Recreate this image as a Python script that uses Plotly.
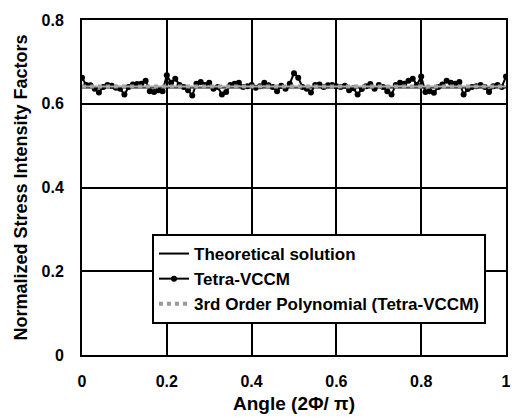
import plotly.graph_objects as go

angle = [i / 100 for i in range(101)]
tetra_vccm = [
    0.662, 0.645, 0.644, 0.636, 0.627, 0.640, 0.645, 0.643, 0.638, 0.636,
    0.622, 0.640, 0.646, 0.647, 0.648, 0.655, 0.630, 0.628, 0.632, 0.630,
    0.668, 0.650, 0.660, 0.645, 0.640, 0.632, 0.620, 0.648, 0.652, 0.645,
    0.650, 0.636, 0.640, 0.622, 0.628, 0.645, 0.648, 0.650, 0.640, 0.642,
    0.645, 0.638, 0.642, 0.650, 0.644, 0.640, 0.630, 0.643, 0.636, 0.648,
    0.673, 0.662, 0.640, 0.636, 0.627, 0.645, 0.646, 0.640, 0.644, 0.645,
    0.642, 0.640, 0.643, 0.632, 0.637, 0.622, 0.635, 0.642, 0.647, 0.636,
    0.645, 0.640, 0.630, 0.622, 0.645, 0.650, 0.648, 0.655, 0.660, 0.645,
    0.665, 0.628, 0.630, 0.626, 0.640, 0.646, 0.655, 0.650, 0.648, 0.652,
    0.622, 0.635, 0.640, 0.642, 0.645, 0.640, 0.628, 0.642, 0.645, 0.640,
    0.665,
]
theory_x = [0.0, 1.0]
theory_y = [0.639, 0.639]
poly_x = [0.0, 0.2, 0.4, 0.6, 0.8, 1.0]
poly_y = [0.641, 0.641, 0.641, 0.641, 0.641, 0.641]

x_ticks = [0, 0.2, 0.4, 0.6, 0.8, 1]
x_tick_labels = ["0", "0.2", "0.4", "0.6", "0.8", "1"]
y_ticks = [0, 0.2, 0.4, 0.6, 0.8]
y_tick_labels = ["0", "0.2", "0.4", "0.6", "0.8"]

FONT = "Liberation Sans, Arial, sans-serif"

fig = go.Figure()
fig.add_trace(go.Scatter(
    x=theory_x, y=theory_y, mode="lines", name="<b>Theoretical solution</b>",
    line=dict(color="black", width=2),
))
fig.add_trace(go.Scatter(
    x=angle, y=tetra_vccm, mode="lines+markers", name="<b>Tetra-VCCM</b>",
    line=dict(color="black", width=2),
    marker=dict(color="black", size=6),
))
fig.add_trace(go.Scatter(
    x=poly_x, y=poly_y, mode="lines", name="<b>3rd Order Polynomial (Tetra-VCCM)</b>",
    line=dict(color="#999999", width=4, dash="dot"),
))
fig.add_trace(go.Scatter(
    x=poly_x, y=poly_y, mode="lines", showlegend=False,
    line=dict(color="#aaaaaa", width=2),
))

fig.update_layout(
    width=512, height=419,
    margin=dict(l=82, r=6, t=20, b=64),
    paper_bgcolor="white", plot_bgcolor="white",
    font=dict(family=FONT, color="black", size=16),
    showlegend=True,
    legend=dict(
        x=(152 - 82) / 424, y=(355 - 279) / 335, xanchor="left", yanchor="middle",
        bgcolor="white", bordercolor="black", borderwidth=2,
        font=dict(family=FONT, size=17, color="black"),
        itemwidth=30, tracegroupgap=0,
    ),
    xaxis=dict(
        range=[0, 1], tickvals=x_ticks, ticktext=[f"<b>{t}</b>" for t in x_tick_labels],
        showgrid=True, gridcolor="black", gridwidth=1.5,
        showline=True, linecolor="black", linewidth=2, mirror=True,
        zeroline=False, ticks="", ticklabelstandoff=11, automargin=False,
        tickfont=dict(size=16, family=FONT),
    ),
    yaxis=dict(
        range=[0, 0.8], tickvals=y_ticks, ticktext=[f"<b>{t}</b>" for t in y_tick_labels],
        showgrid=True, gridcolor="black", gridwidth=1.5,
        showline=True, linecolor="black", linewidth=2, mirror=True,
        zeroline=False, ticks="", ticklabelstandoff=13, automargin=False,
        tickfont=dict(size=16, family=FONT),
    ),
    annotations=[
        dict(text="<b>Angle (2Φ/ π)</b>", xref="paper", yref="paper",
             x=0.5, y=-(403 - 355) / 335, xanchor="center", yanchor="middle",
             showarrow=False, font=dict(size=19, family=FONT)),
        dict(text="<b>Normalized Stress Intensity Factors</b>", xref="paper", yref="paper",
             x=-(82 - 20) / 424, y=0.5, xanchor="center", yanchor="middle", textangle=-90,
             showarrow=False, font=dict(size=18, family=FONT)),
    ],
)

fig.write_html(
    "out.html",
    config={"displayModeBar": False},
    post_script="document.body.style.margin='0';document.body.style.overflow='hidden';",
)
